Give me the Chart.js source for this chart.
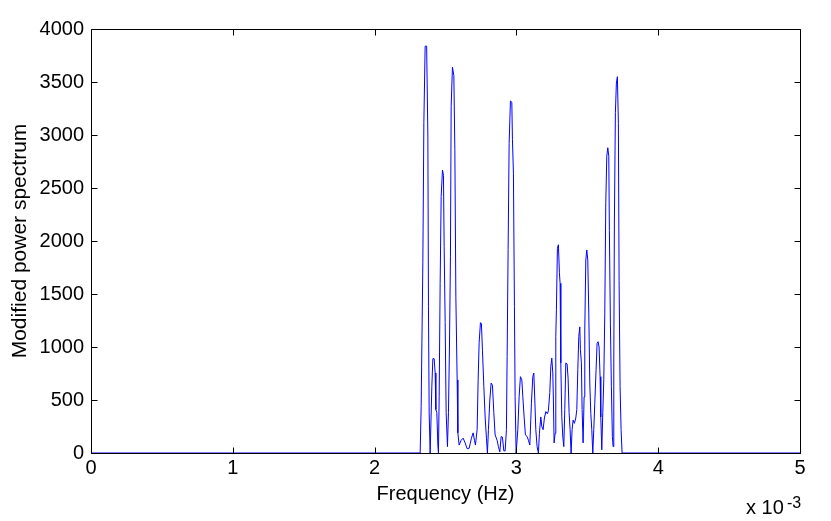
<!DOCTYPE html>
<html>
<head>
<meta charset="utf-8">
<script src="https://cdn.jsdelivr.net/npm/chart.js@4"></script>
<style>
  html, body { margin: 0; padding: 0; background: #fff; }
  #wrap { width: 831px; height: 521px; }
</style>
</head>
<body>
<div id="wrap"><canvas id="grafica" width="831" height="521"></canvas></div>
<script>
// frequency in units of 1e-3 Hz
const freqMilli = [
  0, 2.3213, 2.3284, 2.3403, 2.3474, 2.3565, 2.3671, 2.3756, 2.3798, 2.3848, 2.3918,
  2.4038, 2.4108, 2.4200, 2.4271, 2.4320, 2.4390, 2.4461, 2.4503, 2.4553, 2.4623,
  2.4694, 2.4786, 2.4856, 2.4905, 2.4976, 2.5046, 2.5138, 2.5208, 2.5279, 2.5349,
  2.5399, 2.5490, 2.5589, 2.5660, 2.5730, 2.5822, 2.5871, 2.5963, 2.6104, 2.6245,
  2.6386, 2.6527, 2.6668, 2.6830, 2.6950, 2.7042, 2.7111, 2.7231, 2.7302, 2.7372,
  2.7464, 2.7534, 2.7605, 2.7703, 2.7795, 2.7887, 2.7957, 2.8028, 2.8126, 2.8218,
  2.8310, 2.8408, 2.8500, 2.8641, 2.8732, 2.8831, 2.8923, 2.9015, 2.9113, 2.9205,
  2.9297, 2.9346, 2.9416, 2.9487, 2.9579, 2.9677, 2.9720, 2.9790, 2.9861, 2.9910,
  2.9981, 3.0100, 3.0192, 3.0283, 3.0382, 3.0453, 3.0544, 3.0636, 3.0756, 3.0848,
  3.0946, 3.1059, 3.1157, 3.1228, 3.1298, 3.1369, 3.1460, 3.1552, 3.1623, 3.1721,
  3.1792, 3.1884, 3.1975, 3.2074, 3.2187, 3.2257, 3.2356, 3.2426, 3.2497, 3.2567,
  3.2609, 3.2659, 3.2730, 3.2779, 3.2821, 3.2892, 3.2962, 3.3033, 3.3082, 3.3131,
  3.3202, 3.3272, 3.3343, 3.3413, 3.3484, 3.3576, 3.3646, 3.3717, 3.3787, 3.3858,
  3.3928, 3.3999, 3.4091, 3.4189, 3.4260, 3.4330, 3.4400, 3.4471, 3.4513, 3.4584,
  3.4633, 3.4704, 3.4774, 3.4823, 3.4894, 3.4964, 3.5035, 3.5105, 3.5176, 3.5246,
  3.5317, 3.5387, 3.5458, 3.5528, 3.5620, 3.5690, 3.5761, 3.5831, 3.5902, 3.5951,
  3.6022, 3.6092, 3.6163, 3.6233, 3.6304, 3.6374, 3.6445, 3.6515, 3.6557, 3.6628,
  3.6698, 3.6769, 3.6818, 3.6868, 3.6910, 3.6981, 3.7051, 3.7122, 3.7192, 3.7242,
  3.7312, 3.7383, 3.7453, 5.0
];
const potencia = [
  0, 0, 440, 1800, 3120, 3838, 3838, 2990, 1380, 380, 0,
  630, 890, 890, 755, 410, 380, 75, 0, 530, 1600,
  2420, 2670, 2620, 1950, 1230, 380, 60, 380, 1000, 1850,
  3270, 3640, 3560, 2860, 1480, 690, 190, 75, 120, 140,
  95, 40, 45, 140, 190, 120, 75, 220, 690, 1040,
  1230, 1220, 970, 630, 340, 140, 0, 220, 500, 660,
  640, 380, 170, 120, 60, 10, 155, 150, 20, 20,
  220, 910, 1920, 2920, 3320, 3310, 2960, 2640, 1380, 530,
  0, 220, 530, 720, 690, 530, 340, 170, 155, 120,
  75, 470, 720, 755, 500, 220, 60, 0, 185, 340,
  250, 220, 330, 390, 370, 400, 570, 815, 895, 755,
  500, 95, 185, 1100, 1350, 1930, 1965, 1700, 1600, 850,
  340, 150, 60, 410, 850, 840, 705, 380, 220, 0,
  220, 310, 280, 330, 410, 785, 1100, 1190, 975, 850,
  410, 95, 530, 1160, 1820, 1915, 1820, 1320, 660, 375,
  220, 0, 220, 470, 785, 1035, 1050, 1000, 720, 340,
  30, 380, 690, 1320, 2360, 2800, 2880, 2800, 2100, 1225,
  625, 155, 60, 850, 2170, 3210, 3490, 3550, 3110, 1630,
  625, 220, 0, 0
];
const xTicks = [0, 1, 2, 3, 4, 5];          // x 10^-3 Hz
const yTicks = [0, 500, 1000, 1500, 2000, 2500, 3000, 3500, 4000];

const fuente = "'Liberation Sans', Helvetica, Arial, sans-serif";

const puntos = freqMilli.map((f, i) => ({ x: f * 1e-3, y: potencia[i] }));

// box around the axes plus inward ticks, MATLAB style
const cajaPlugin = {
  id: "caja",
  afterDraw(chart) {
    const c = chart.ctx;
    const a = chart.chartArea;
    const sx = chart.scales.x, sy = chart.scales.y;
    const L = Math.round(a.left) + 0.5, R = Math.round(a.right) + 0.5;
    const T = Math.round(a.top) + 0.5, B = Math.round(a.bottom) + 0.5;
    c.save();
    c.strokeStyle = "#000";
    c.lineWidth = 1;
    c.beginPath();
    c.rect(L, T, R - L, B - T);
    const len = 6;
    xTicks.forEach(t => {
      const px = Math.round(sx.getPixelForValue(t * 1e-3)) + 0.5;
      c.moveTo(px, B); c.lineTo(px, B - len);
      c.moveTo(px, T); c.lineTo(px, T + len);
    });
    yTicks.forEach(t => {
      const py = Math.round(sy.getPixelForValue(t)) + 0.5;
      c.moveTo(L, py); c.lineTo(L + len, py);
      c.moveTo(R, py); c.lineTo(R - len, py);
    });
    c.stroke();
    // exponent label
    c.fillStyle = "#000";
    c.textBaseline = "alphabetic";
    c.textAlign = "left";
    c.font = "20px " + fuente;
    c.fillText("x 10", 746, 514);
    c.font = "16px " + fuente;
    c.fillText("-3", 787, 508);
    c.restore();
  }
};

const ctx = document.getElementById("grafica").getContext("2d");
new Chart(ctx, {
  type: "line",
  data: {
    datasets: [{
      data: puntos,
      borderColor: "rgb(0,0,255)",
      borderWidth: 1,
      pointRadius: 0,
      tension: 0,
      fill: false
    }]
  },
  options: {
    responsive: false,
    animation: false,
    layout: { padding: { left: 0, top: 29, right: 31, bottom: 0 } },
    plugins: { legend: { display: false }, tooltip: { enabled: false } },
    scales: {
      x: {
        type: "linear",
        min: 0,
        max: 0.005,
        afterFit: s => { s.height = 68; },
        afterBuildTicks: s => { s.ticks = xTicks.map(v => ({ value: v * 1e-3 })); },
        grid: { display: false, drawTicks: false },
        border: { display: false },
        ticks: {
          padding: 3,
          color: "#000",
          font: { family: fuente, size: 20 },
          maxRotation: 0,
          callback: v => String(Math.round(v * 1000))
        },
        title: {
          display: true,
          text: "Frequency (Hz)",
          color: "#000",
          font: { family: fuente, size: 20 },
          padding: { top: 0, bottom: 15 }
        }
      },
      y: {
        min: 0,
        max: 4000,
        afterFit: s => { s.width = 91; },
        afterBuildTicks: s => { s.ticks = yTicks.map(v => ({ value: v })); },
        grid: { display: false, drawTicks: false },
        border: { display: false },
        ticks: {
          padding: 7,
          color: "#000",
          font: { family: fuente, size: 20 },
          callback: v => String(v)
        },
        title: {
          display: true,
          text: "Modified power spectrum",
          color: "#000",
          font: { family: fuente, size: 21 },
          padding: { top: 8, bottom: 0 }
        }
      }
    }
  },
  plugins: [cajaPlugin]
});
</script>
</body>
</html>
